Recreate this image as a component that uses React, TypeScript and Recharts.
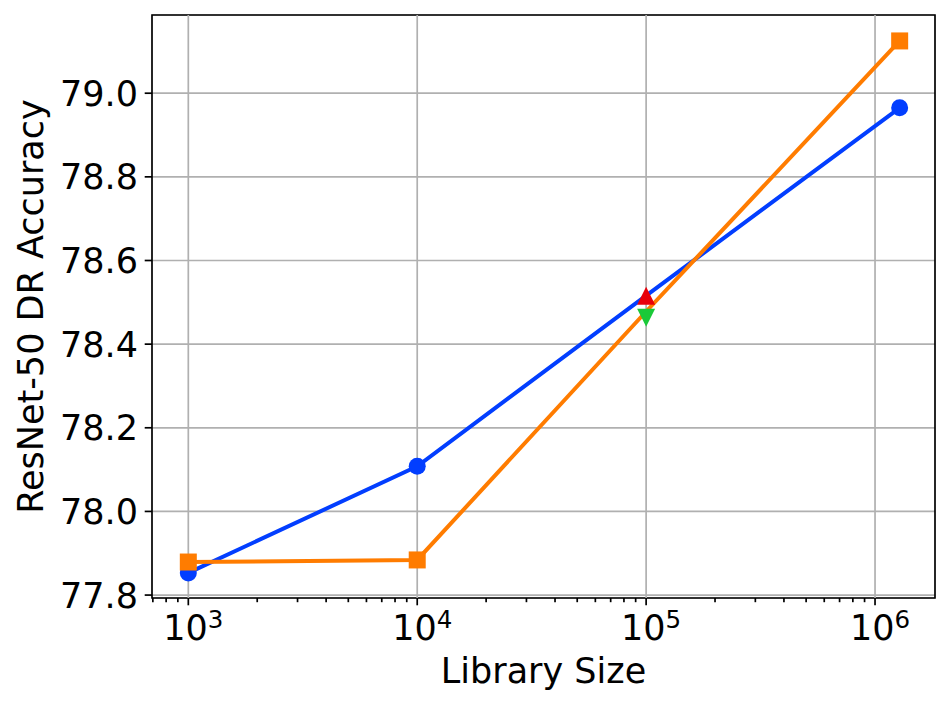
import { LineChart, Line, XAxis, YAxis, CartesianGrid, ReferenceLine, ReferenceArea } from "recharts";

// library sizes (log x) and DR accuracy for the two runs
const sizes = [1000, 10000, 100000, 1281167];
const baseline = [77.853, 78.108, 78.516, 78.965];
const ours = [77.879, 77.884, 78.478, 79.125];
// the two triangle markers drawn at 10^5
const upMarker = [78.516];
const downMarker = [78.463];

const majorTicks = [1e3, 1e4, 1e5, 1e6];
const minorTicks = [700, 800, 900].concat(
  [1e3, 1e4, 1e5].flatMap((d) => [2, 3, 4, 5, 6, 7, 8, 9].map((m) => m * d))
);
const yTicks = [77.8, 78.0, 78.2, 78.4, 78.6, 78.8, 79.0];

const X_DOMAIN: [number, number] = [694, 1828000];
const Y_DOMAIN: [number, number] = [77.793, 79.187];

const BLUE = "#023eff";
const ORANGE = "#ff7c00";
const RED = "#e8000b";
const GREEN = "#1ac938";
const FONT = "DejaVu Sans";
const FS = 35;

const blueData = sizes.map((x, i) => ({ x, y: baseline[i] }));
const orangeData = sizes.map((x, i) => ({ x, y: ours[i] }));
const upData = upMarker.map((y) => ({ x: sizes[2], y }));
const downData = downMarker.map((y) => ({ x: sizes[2], y }));

function XTick(props: any) {
  const { x, y, payload } = props;
  const v = payload.value;
  const major = majorTicks.includes(v);
  const exp = String(Math.round(Math.log10(v)));
  return (
    <g>
      <line x1={x} x2={x} y1={y} y2={y + (major ? 7.3 : 4.2)} stroke="#000" strokeWidth={1.7} />
      {major && (
        <text x={x + 5} y={y + 42} textAnchor="middle" fontFamily={FONT} fontSize={FS} fill="#000">
          10
          <tspan fontSize={24.5} dy={-12}>{exp}</tspan>
        </text>
      )}
    </g>
  );
}

function YTick(props: any) {
  const { x, y, payload } = props;
  return (
    <g>
      <line x1={x - 7.3} x2={x} y1={y} y2={y} stroke="#000" strokeWidth={1.7} />
      <text x={x - 14} y={y + 12.5} textAnchor="end" fontFamily={FONT} fontSize={FS} fill="#000">
        {payload.value.toFixed(1)}
      </text>
    </g>
  );
}

const blueDot = (p: any) =>
  p.index === 2 ? (
    <g key={`b${p.index}`} />
  ) : (
    <circle key={`b${p.index}`} cx={p.cx} cy={p.cy} r={8.5} fill={BLUE} />
  );

const squareDot = (p: any) =>
  p.index === 2 ? (
    <g key={`s${p.index}`} />
  ) : (
    <rect key={`s${p.index}`} x={p.cx - 8.5} y={p.cy - 8.5} width={17} height={17} fill={ORANGE} />
  );

const triUp = (p: any) => (
  <polygon key={`u${p.index}`} points={`${p.cx},${p.cy - 9} ${p.cx - 9},${p.cy + 9} ${p.cx + 9},${p.cy + 9}`} fill={RED} />
);
const triDown = (p: any) => (
  <polygon key={`d${p.index}`} points={`${p.cx},${p.cy + 9} ${p.cx - 9},${p.cy - 9} ${p.cx + 9},${p.cy - 9}`} fill={GREEN} />
);

export default function App() {
  return (
    <div style={{ position: "absolute", left: 0, top: 0, background: "#fff" }}>
      <LineChart width={951} height={708} margin={{ top: 15, right: 16, bottom: 0, left: 0 }}>
        <CartesianGrid vertical={false} stroke="#b0b0b0" strokeWidth={1.7} />
        {majorTicks.map((t) => (
          <ReferenceLine key={t} x={t} stroke="#b0b0b0" strokeWidth={1.7} />
        ))}
        <XAxis
          dataKey="x"
          type="number"
          scale="log"
          domain={X_DOMAIN}
          allowDataOverflow
          ticks={[...minorTicks, ...majorTicks]}
          interval={0}
          tickSize={0}
          tickMargin={0}
          tickLine={false}
          axisLine={false}
          tick={<XTick />}
          height={110}
          label={{
            content: () => (
              <text x={543.5} y={683} textAnchor="middle" fontFamily={FONT} fontSize={FS} fill="#000">
                Library Size
              </text>
            ),
          }}
        />
        <YAxis
          type="number"
          domain={Y_DOMAIN}
          allowDataOverflow
          ticks={yTicks}
          interval={0}
          tickSize={0}
          tickMargin={0}
          tickLine={false}
          axisLine={false}
          tick={<YTick />}
          width={152}
          label={{
            content: () => (
              <text
                x={43}
                y={306.5}
                transform="rotate(-90, 43, 306.5)"
                textAnchor="middle"
                fontFamily={FONT}
                fontSize={FS}
                fill="#000"
              >
                ResNet-50 DR Accuracy
              </text>
            ),
          }}
        />
        <Line data={blueData} dataKey="y" stroke={BLUE} strokeWidth={4} dot={blueDot} isAnimationActive={false} />
        <Line data={orangeData} dataKey="y" stroke={ORANGE} strokeWidth={4} dot={squareDot} isAnimationActive={false} />
        <Line data={upData} dataKey="y" stroke="none" dot={triUp} isAnimationActive={false} />
        <Line data={downData} dataKey="y" stroke="none" dot={triDown} isAnimationActive={false} />
        <ReferenceArea
          x1={X_DOMAIN[0]}
          x2={X_DOMAIN[1]}
          y1={Y_DOMAIN[0]}
          y2={Y_DOMAIN[1]}
          fill="none"
          stroke="#000"
          strokeWidth={1.7}
        />
      </LineChart>
    </div>
  );
}
